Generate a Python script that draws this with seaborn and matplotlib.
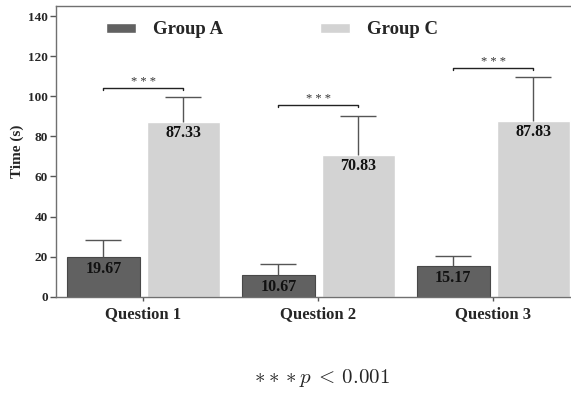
import numpy as np
import pandas as pd
import matplotlib.pyplot as plt
import seaborn as sns

questions = ["Question 1", "Question 2", "Question 3"]
groups = ["Group A", "Group C"]
group_a_mean = [19.67, 10.67, 15.17]
group_c_mean = [87.33, 70.83, 87.83]
group_a_sd = [8.7, 5.6, 5.1]
group_c_sd = [12.2, 19.5, 21.6]
bracket_y = [104, 95.5, 114]
yticks = [0, 20, 40, 60, 80, 100, 120, 140]
colors = ["#616161", "#d3d3d3"]

df = pd.DataFrame({
    "Question": questions * 2,
    "Group": [groups[0]] * 3 + [groups[1]] * 3,
    "Time": group_a_mean + group_c_mean,
})

sns.set_style("ticks")
plt.rcParams["font.family"] = ["Liberation Serif", "DejaVu Serif"]
plt.rcParams["mathtext.fontset"] = "cm"

fig = plt.figure(figsize=(5.71, 3.93), dpi=100)
ax = fig.add_axes([56 / 571, (393 - 296.7) / 393, (571 - 56) / 571, 290.7 / 393])

sns.barplot(data=df, x="Question", y="Time", hue="Group", palette=colors,
            width=0.914, gap=0.094, errorbar=None, saturation=1, ax=ax)

# darker outline on the group A bars
for p in ax.containers[0]:
    p.set_edgecolor("#484848")
    p.set_linewidth(0.8)

# one-sided error bars, value labels inside bars
for cont, means, sds in zip(ax.containers, [group_a_mean, group_c_mean], [group_a_sd, group_c_sd]):
    xs = [p.get_x() + p.get_width() / 2 for p in cont]
    eb = ax.errorbar(xs, means, yerr=[np.zeros(len(sds)), sds], fmt="none",
                     ecolor="#555555", elinewidth=1, capsize=13, capthick=1)
    eb[1][0].set_visible(False)
    for x, v in zip(xs, means):
        ax.annotate(f"{v:.2f}", (x, v), xytext=(0, -2.5), textcoords="offset points",
                    ha="center", va="top", fontsize=11.5, fontweight="bold", color="#111111")

# significance brackets
xa = [p.get_x() + p.get_width() / 2 for p in ax.containers[0]]
xc = [p.get_x() + p.get_width() / 2 for p in ax.containers[1]]
for x1, x2, y in zip(xa, xc, bracket_y):
    ax.plot([x1, x1, x2, x2], [y - 1, y, y, y - 1], color="#222222", lw=1)
    ax.text((x1 + x2) / 2, y + 0.3, "* * *", ha="center", va="bottom", fontsize=9, color="#333333")

ax.set_xlim(-0.5, 2.444)
ax.set_ylim(0, 145)
ax.set_yticks(yticks)
ax.set_xlabel("")
ax.set_ylabel("Time (s)", fontsize=11, fontweight="bold", labelpad=3)
ax.tick_params(axis="y", direction="out", length=4, width=1, color="#555555", labelsize=9.5, pad=2)
ax.tick_params(axis="x", direction="out", length=3, width=1, color="#555555", labelsize=12, pad=4)
for lab in ax.get_yticklabels() + ax.get_xticklabels():
    lab.set_fontweight("bold")

for side in ["left", "top", "bottom"]:
    ax.spines[side].set_color("#707070")
    ax.spines[side].set_linewidth(1)
ax.spines["right"].set_visible(False)

ax.legend(ncol=2, frameon=False, loc="center left", bbox_to_anchor=(0.097, 0.9175),
          borderaxespad=0, borderpad=0, handlelength=1.6, handleheight=0.48,
          handletextpad=0.89, columnspacing=5.2, prop={"weight": "bold", "size": 13.5})

fig.text(0.564, 0.038, r"$***p\:<\:0.001$", ha="center", va="center", fontsize=15)

fig.savefig("out.png", dpi=100)
